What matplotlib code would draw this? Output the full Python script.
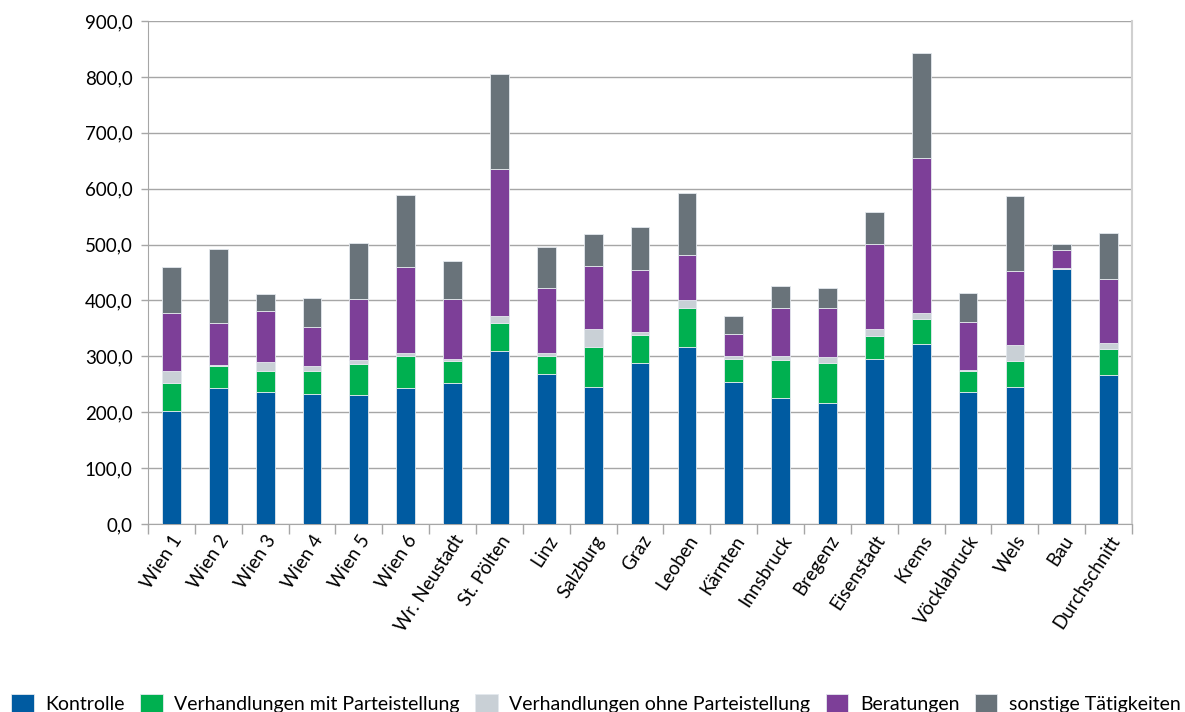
import matplotlib
matplotlib.use("Agg")
import matplotlib.pyplot as plt
import numpy as np
from matplotlib.ticker import FuncFormatter, FixedLocator

categories = ["Wien 1", "Wien 2", "Wien 3", "Wien 4", "Wien 5", "Wien 6", "Wr. Neustadt",
              "St. Pölten", "Linz", "Salzburg", "Graz", "Leoben", "Kärnten", "Innsbruck",
              "Bregenz", "Eisenstadt", "Krems", "Vöcklabruck", "Wels", "Bau", "Durchschnitt"]

kontrolle = [203, 244, 237, 233, 231, 244, 253, 310, 268, 246, 288, 317, 255, 226, 216, 296, 323, 236, 245, 456, 266]
verh_mit = [49, 38, 36, 40, 56, 57, 38, 50, 33, 70, 51, 70, 41, 68, 72, 41, 44, 37, 47, 1, 47]
verh_ohne = [21, 3, 17, 9, 7, 5, 5, 13, 5, 33, 5, 13, 5, 7, 11, 12, 11, 3, 29, 1, 11]
beratungen = [104, 74, 92, 70, 108, 153, 107, 262, 116, 112, 111, 82, 39, 85, 88, 152, 276, 85, 131, 32, 114]
sonstige = [82, 133, 29, 52, 101, 130, 67, 170, 73, 58, 77, 110, 33, 40, 36, 58, 188, 52, 135, 11, 82]

series_names = ["Kontrolle", "Verhandlungen mit Parteistellung", "Verhandlungen ohne Parteistellung",
                "Beratungen", "sonstige Tätigkeiten"]
series = [kontrolle, verh_mit, verh_ohne, beratungen, sonstige]
colors = ["#005BA1", "#00B050", "#C9D0D6", "#7D3F98", "#69737A"]

plt.rcParams['font.family'] = ['Lato', 'DejaVu Sans']

fig = plt.figure(figsize=(11.85, 7.12), dpi=100)
ax = fig.add_axes([0.1249, 0.264, 0.9553 - 0.1249, 0.9705 - 0.264])

x = np.arange(len(categories))
bottom = np.zeros(len(categories))
handles = []
for vals, c, name in zip(series, colors, series_names):
    v = np.array(vals, dtype=float)
    h = ax.bar(x, v, width=0.4, bottom=bottom, color=c, edgecolor="#E4E9EE",
               linewidth=0.6, label=name, zorder=3)
    handles.append(h)
    bottom += v

ax.set_xlim(-0.5, len(categories) - 0.5)
ax.set_ylim(0, 900)
ax.set_yticks(np.arange(0, 901, 100))
ax.yaxis.set_major_formatter(FuncFormatter(lambda v, p: f"{v:.1f}".replace(".", ",")))
ax.grid(axis="y", color="#A6A6A6", linewidth=1.0, zorder=0)
ax.set_axisbelow(True)

ax.set_xticks(x)
ax.set_xticklabels(categories, rotation=57, ha="right", rotation_mode="anchor", fontsize=13.5)
ax.tick_params(axis="x", which="major", length=0, pad=6)
ax.xaxis.set_minor_locator(FixedLocator(np.arange(-0.5, len(categories), 1.0)))
ax.tick_params(axis="x", which="minor", length=7, color="#A6A6A6", width=1)
ax.tick_params(axis="y", length=5, color="#A6A6A6", width=1, labelsize=13.5, pad=6)

ax.spines["top"].set_visible(False)
ax.spines["left"].set_color("#A6A6A6")
ax.spines["bottom"].set_color("#A6A6A6")
ax.spines["right"].set_color("#D0D0D0")
ax.spines["right"].set_linewidth(1.5)

fig.legend(handles=handles, labels=series_names, loc="center", ncol=5,
           bbox_to_anchor=(0.503, 0.012), frameon=False, fontsize=14,
           handlelength=1.15, handleheight=1.15, handletextpad=0.6,
           columnspacing=0.8, borderpad=0.1, borderaxespad=0.0)

fig.savefig("out.png", dpi=100)
